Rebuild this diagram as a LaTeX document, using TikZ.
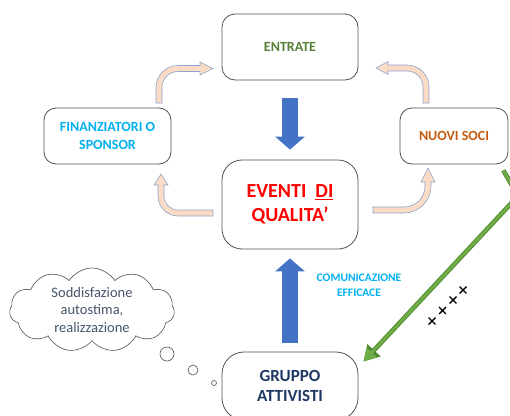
\documentclass[tikz,border=0pt]{standalone}
\usepackage{fontspec}
\setmainfont{Carlito}
\usetikzlibrary{arrows.meta,shapes.symbols,shapes.misc,calc}
\definecolor{boxgray}{HTML}{505050}
\definecolor{entgreen}{HTML}{548235}
\definecolor{skyblue}{HTML}{00B0F0}
\definecolor{socorange}{HTML}{C55A11}
\definecolor{navy}{HTML}{1F3864}
\definecolor{slate}{HTML}{44546A}
\definecolor{bandfill}{HTML}{FADBC6}
\definecolor{bandline}{HTML}{8EA5D0}
\definecolor{bigblue}{HTML}{4472C4}
\definecolor{lgreen}{HTML}{70AD47}
\definecolor{dgreen}{HTML}{4E8A2E}
\begin{document}
\begin{tikzpicture}[x=1pt,y=-1pt,
  box/.style={draw=boxgray, line width=0.8pt, align=center, inner sep=0pt,
    font=\bfseries\fontsize{14}{18}\selectfont},
  band/.style={fill=bandfill, draw=bandline, line width=0.6pt, line join=miter},
  bigarrow/.style={draw=bigblue, line width=16pt, -{Triangle[width=29pt,length=13pt]}},
  greenout/.style={draw=dgreen, line width=4.6pt, -{Triangle[width=17pt,length=15.5pt]}},
  greenin/.style={draw=lgreen, line width=2.8pt, -{Triangle[width=13.5pt,length=12.5pt]}},
  bubble/.style={circle, draw=boxgray, line width=0.6pt, inner sep=0pt},
  xmark/.style={cross out, draw=black, line width=1.4pt, minimum size=5.5pt, inner sep=0pt}
]
\useasboundingbox (0,0) rectangle (510,415);
\clip (0,0) rectangle (510,415);

% boxes
\node[box, rounded corners=13pt, minimum width=136pt, minimum height=66pt, text=entgreen]
  (entrate) at (290,47) {ENTRATE};
\node[box, rounded corners=12pt, minimum width=127pt, minimum height=56pt, text=skyblue]
  (fin) at (107.5,136) {FINANZIATORI O\\SPONSOR};
\node[box, rounded corners=12pt, minimum width=108pt, minimum height=56pt, text=socorange]
  (nuovi) at (454,136) {NUOVI SOCI};
\node[box, rounded corners=20pt, minimum width=136pt, minimum height=89pt, text=red,
  font=\bfseries\fontsize{20}{24}\selectfont]
  (eventi) at (290,204.5) {EVENTI~~\underline{DI}\\QUALITA’};
\node[box, rounded corners=22pt, minimum width=136pt, minimum height=68pt, text=navy,
  font=\bfseries\fontsize{17}{20}\selectfont]
  (gruppo) at (290,386) {GRUPPO\\ATTIVISTI};

% big blue arrows
\draw[bigarrow] ([yshift=-18pt]entrate.south) -- ([yshift=10pt]eventi.north);
\draw[bigarrow] ([yshift=9pt]gruppo.north) -- ([yshift=-9pt]eventi.south);

% curved arrows
% fin -> entrate
\draw[band] (156,103) -- (156,87.5) .. controls (156,75.35) and (165.85,65.5) .. (178,65.5)
  -- (200,65.5) -- (200,62) -- (213,68.5) -- (200,75) -- (200,71.5) -- (178,71.5)
  .. controls (169.16,71.5) and (162,78.66) .. (162,87.5) -- (162,103) -- cycle;
% nuovi -> entrate
\draw[band] (429,103) -- (429,87) .. controls (429,74.85) and (419.15,65) .. (407,65)
  -- (388,65) -- (388,61.5) -- (376,68) -- (388,74.5) -- (388,71) -- (407,71)
  .. controls (415.84,71) and (423,78.16) .. (423,87) -- (423,103) -- cycle;
% eventi -> fin
\draw[band] (213,216) -- (178,216) .. controls (166.95,216) and (158,207.05) .. (158,196)
  -- (158,185) -- (154,185) -- (161,174) -- (168,185) -- (164,185) -- (164,196)
  .. controls (164,203.73) and (170.27,210) .. (178,210) -- (213,210) -- cycle;
% eventi -> nuovi
\draw[band] (373,213) -- (404,213) .. controls (418.91,213) and (431,200.91) .. (431,186)
  -- (431,182) -- (435,182) -- (428,168) -- (421,182) -- (425,182) -- (425,186)
  .. controls (425,197.6) and (415.6,207) .. (404,207) -- (373,207) -- cycle;

% green arrow
\coordinate (gbend) at (518,196);
\draw[greenout] ([xshift=-5pt,yshift=-6pt]nuovi.south east) -- (gbend) -- ([xshift=5pt,yshift=-10pt]gruppo.north east);
\draw[greenin] ([xshift=-5pt,yshift=-6pt]nuovi.south east) -- (gbend) -- ([xshift=5pt,yshift=-10pt]gruppo.north east);

% crosses
\node[xmark] (x1) at (432,321) {};
\node[xmark] (x2) at (442.5,310.5) {};
\node[xmark] (x3) at (453,300) {};
\node[xmark] (x4) at (463,290) {};

% label
\node[text=skyblue, align=center, font=\bfseries\fontsize{11.5}{15}\selectfont]
  (comm) at (359,285.5) {COMUNICAZIONE\\EFFICACE};

% thought cloud
\node[cloud, draw=boxgray, line width=0.6pt, cloud puffs=11, cloud puff arc=115,
  cloud ignores aspect, minimum width=165pt, minimum height=84pt, inner sep=0pt,
  align=center, text=slate, font=\fontsize{14.5}{17.7}\selectfont]
  (cloud) at (92,310) {Soddisfazione\\autostima,\\realizzazione};
\node[bubble, minimum size=14pt] (b1) at (167,354) {};
\node[bubble, minimum size=10pt] (b2) at (193,370) {};
\node[bubble, minimum size=5pt] (b3) at (214,383) {};
\end{tikzpicture}
\end{document}
